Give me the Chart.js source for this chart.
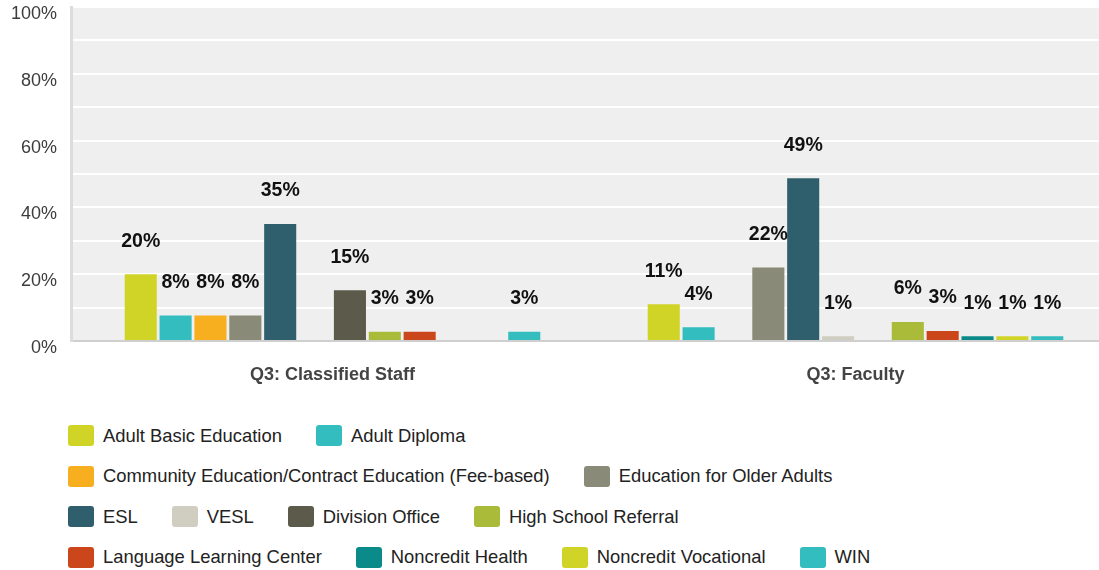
<!DOCTYPE html>
<html>
<head>
<meta charset="utf-8">
<script src="https://cdn.jsdelivr.net/npm/chart.js@4.4.1/dist/chart.umd.min.js"></script>
<style>
  html, body { margin: 0; padding: 0; background: #fff; }
  body { width: 1099px; height: 570px; overflow: hidden; position: relative; font-family: "Liberation Sans", Arial, sans-serif; }
  #wrap { position: absolute; left: 0; top: 0; width: 1117px; height: 400px; }
  #legend { position: absolute; left: 68px; top: 425px; width: 840px; display: flex; flex-wrap: wrap; column-gap: 34px; row-gap: 19.5px; }
  .item { display: flex; align-items: center; height: 21px; font-size: 18.4px; color: #222; white-space: nowrap; }
  .box { width: 26px; height: 21px; border-radius: 3px; margin-right: 9px; }
</style>
</head>
<body>
<div id="wrap"><canvas id="myChart"></canvas></div>
<div id="legend"></div>
<script>
// data
let categories = ['Q3: Classified Staff', 'Q3: Faculty'];
let seriesNames = ['Adult Basic Education', 'Adult Diploma', 'Community Education/Contract Education (Fee-based)',
    'Education for Older Adults', 'ESL', 'VESL', 'Division Office', 'High School Referral',
    'Language Learning Center', 'Noncredit Health', 'Noncredit Vocational', 'WIN'];
let classifiedStaff = [20, 7.6, 7.6, 7.6, 35, 0, 15.2, 2.8, 2.8, 0, 0, 2.8];
let faculty = [11, 4.1, 0, 22, 48.7, 1.4, 0, 5.7, 3, 1.4, 1.4, 1.4];
let yTickLabels = [0, 20, 40, 60, 80, 100];

let seriesColors = ['#d0d427', '#33bdbf', '#f7ae1f', '#8a8a78', '#2f5f6c', '#d0cec0',
    '#5c5a4b', '#a9bb38', '#cb461a', '#0b8a8a', '#d0d427', '#33bdbf'];

let datasets = seriesNames.map((name, i) => ({
    label: name,
    data: [classifiedStaff[i], faculty[i]],
    backgroundColor: seriesColors[i],
    borderWidth: 0,
    categoryPercentage: 0.8,
    barPercentage: 0.92
}));

// grey plot background
let plotBg = {
    id: 'plotBg',
    beforeDraw(chart) {
        let a = chart.chartArea;
        chart.ctx.save();
        chart.ctx.fillStyle = '#efefef';
        chart.ctx.fillRect(a.left, a.top, a.right - a.left, a.bottom - a.top);
        chart.ctx.restore();
    }
};

// value labels above the bars
let barLabels = {
    id: 'barLabels',
    afterDatasetsDraw(chart) {
        let ctx = chart.ctx;
        ctx.save();
        ctx.font = 'bold 19.5px "Liberation Sans", Arial, sans-serif';
        ctx.fillStyle = '#111';
        ctx.textAlign = 'center';
        ctx.textBaseline = 'middle';
        chart.data.datasets.forEach((ds, i) => {
            chart.getDatasetMeta(i).data.forEach((bar, j) => {
                let v = ds.data[j];
                if (!v) return;
                ctx.fillText(Math.round(v) + '%', bar.x, bar.y - 33);
            });
        });
        ctx.restore();
    }
};

var ctx = document.getElementById('myChart').getContext('2d');
var chart = new Chart(ctx, {
    type: 'bar',
    data: { labels: categories, datasets: datasets },
    options: {
        responsive: true,
        maintainAspectRatio: false,
        animation: false,
        layout: { padding: { top: 7, left: 0, right: 0, bottom: 0 } },
        plugins: { legend: { display: false }, tooltip: { enabled: false } },
        scales: {
            x: {
                grid: { display: false, drawTicks: false },
                border: { color: '#cfcfcf', width: 2 },
                ticks: {
                    padding: 23,
                    color: '#444',
                    font: { family: '"Liberation Sans", Arial, sans-serif', size: 18, weight: 'bold' }
                },
                afterFit(scale) { scale.height = 59; scale.paddingLeft = 0; scale.paddingRight = 0; }
            },
            y: {
                min: 0,
                max: 100,
                grid: {
                    drawTicks: false,
                    lineWidth: 2,
                    color: (c) => c.tick && c.tick.value === 0 ? 'rgba(0,0,0,0)' : '#ffffff'
                },
                border: { color: '#dcdcdc', width: 3 },
                ticks: {
                    stepSize: 10,
                    padding: 14,
                    labelOffset: 7,
                    color: '#3c3c3c',
                    font: { family: '"Liberation Sans", Arial, sans-serif', size: 18 },
                    callback: (v) => yTickLabels.includes(v) ? v + '%' : ''
                },
                afterFit(scale) { scale.width = 71; scale.paddingTop = 0; scale.paddingBottom = 0; }
            }
        }
    },
    plugins: [plotBg, barLabels]
});

// legend as html, built from the chart's datasets
let legendBox = document.getElementById('legend');
chart.data.datasets.forEach((ds) => {
    let item = document.createElement('div');
    item.className = 'item';
    let box = document.createElement('span');
    box.className = 'box';
    box.style.background = ds.backgroundColor;
    item.appendChild(box);
    item.appendChild(document.createTextNode(ds.label));
    legendBox.appendChild(item);
});
</script>
</body>
</html>
